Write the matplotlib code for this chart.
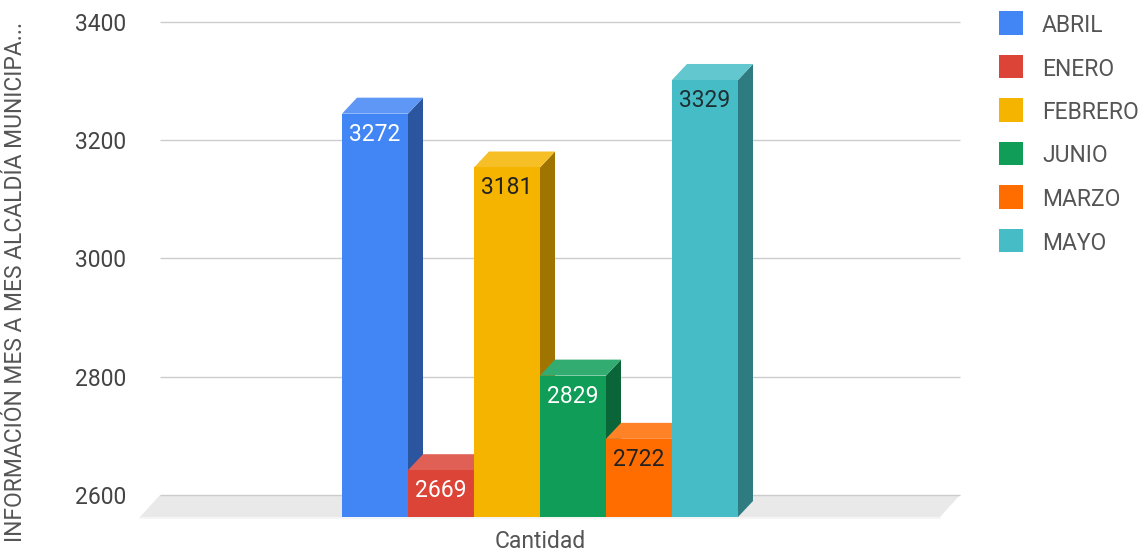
import matplotlib
matplotlib.use("Agg")
import matplotlib.pyplot as plt
from matplotlib.patches import Polygon, Rectangle
from matplotlib.colors import to_rgb

plt.rcParams['font.family'] = ['Roboto', 'DejaVu Sans']

# data
months = ['ABRIL', 'ENERO', 'FEBRERO', 'JUNIO', 'MARZO', 'MAYO']
values = [3272, 2669, 3181, 2829, 2722, 3329]
colors = ['#4285F4', '#DB4437', '#F4B400', '#0F9D58', '#FF6D00', '#46BDC6']
label_colors = ['white', 'white', '#222222', 'white', '#222222', '#1d2f33']
yticks = [2600, 2800, 3000, 3200, 3400]
ylabel = 'INFORMACIÓN MES A MES ALCALDÍA MUNICIPA...'
category = 'Cantidad'

FS = 16.5


def shade(c, f):
    r, g, b = to_rgb(c)
    if f >= 0:
        return (r + (1 - r) * f, g + (1 - g) * f, b + (1 - b) * f)
    return (r * (1 + f), g * (1 + f), b * (1 + f))


W, H = 1145, 554
fig = plt.figure(figsize=(W / 100, H / 100), dpi=100)

# pixel geometry of the plot area
px_per_val = 118.25 / 200.0
px_per_x = 66.0
x0_px = 375.0            # centre of first bar
ylim = (2550, 3420)
y_bottom_px = 495 + (2600 - ylim[0]) * px_per_val
y_top_px = 22 - (ylim[1] - 3400) * px_per_val
ax_left_px, ax_right_px = 130, 975
ax = fig.add_axes([ax_left_px / W, 1 - y_bottom_px / H,
                   (ax_right_px - ax_left_px) / W, (y_bottom_px - y_top_px) / H])
ax.set_ylim(*ylim)
ax.set_xlim((ax_left_px - x0_px) / px_per_x, (ax_right_px - x0_px) / px_per_x)

def xu(px):
    return (px - x0_px) / px_per_x

dx = 15 / px_per_x
dy = 16 / px_per_val
floor_front = 2600 - 22 / px_per_val

# floor
floor = Polygon([(xu(140), floor_front), (xu(160), 2600), (xu(960), 2600), (xu(940), floor_front)],
                closed=True, facecolor='#e9e9e9', edgecolor='none', zorder=1)
ax.add_patch(floor)
ax.plot([xu(140), xu(940)], [floor_front - 1.5, floor_front - 1.5], color='#f3f3f3', lw=1.2, zorder=1)

# gridlines on the back wall
ax.hlines(yticks, xu(160), xu(960), color='#cccccc', lw=1, zorder=1.5)

for i, (v, c, lc) in enumerate(zip(values, colors, label_colors)):
    l, r = i - 0.5, i + 0.5
    top = v - dy
    side = Polygon([(r, floor_front), (r + dx, floor_front + dy), (r + dx, v), (r, top)],
                   closed=True, facecolor=shade(c, -0.35), edgecolor='none', zorder=2 + i)
    lid = Polygon([(l, top), (l + dx, v), (r + dx, v), (r, top)],
                  closed=True, facecolor=shade(c, 0.15), edgecolor='none', zorder=2 + i)
    ax.add_patch(side)
    ax.add_patch(lid)
    ax.bar(i, top - floor_front, bottom=floor_front, width=1.0, color=c, zorder=2 + i)
    ax.annotate(str(v), (i, top), xytext=(0, -19.4), textcoords='offset points',
                ha='center', va='baseline', fontsize=FS, color=lc, zorder=10)

ax.annotate(category, (2.5, floor_front), xytext=(0, -22.3), textcoords='offset points',
            ha='center', va='baseline', fontsize=FS, color='#555555', annotation_clip=False)

ax.set_yticks(yticks)
ax.set_yticklabels([str(t) for t in yticks])
ax.set_xticks([])
ax.tick_params(axis='y', length=0, pad=3, labelsize=FS, labelcolor='#444444')
for s in ax.spines.values():
    s.set_visible(False)

fig.text(16 / W, 0.491, ylabel, rotation=90, ha='center', va='center',
         fontsize=FS, color='#555555')

# legend
for k, (m, c) in enumerate(zip(months, colors)):
    yc = 23 + 43.5 * k
    fig.add_artist(Rectangle((999 / W, 1 - (yc + 11.5) / H), 24 / W, 23 / H,
                             transform=fig.transFigure, facecolor=c, edgecolor='none'))
    fig.text(1042 / W, 1 - yc / H, m, ha='left', va='center_baseline', fontsize=FS, color='#555555')

fig.savefig('out.png', dpi=100)
